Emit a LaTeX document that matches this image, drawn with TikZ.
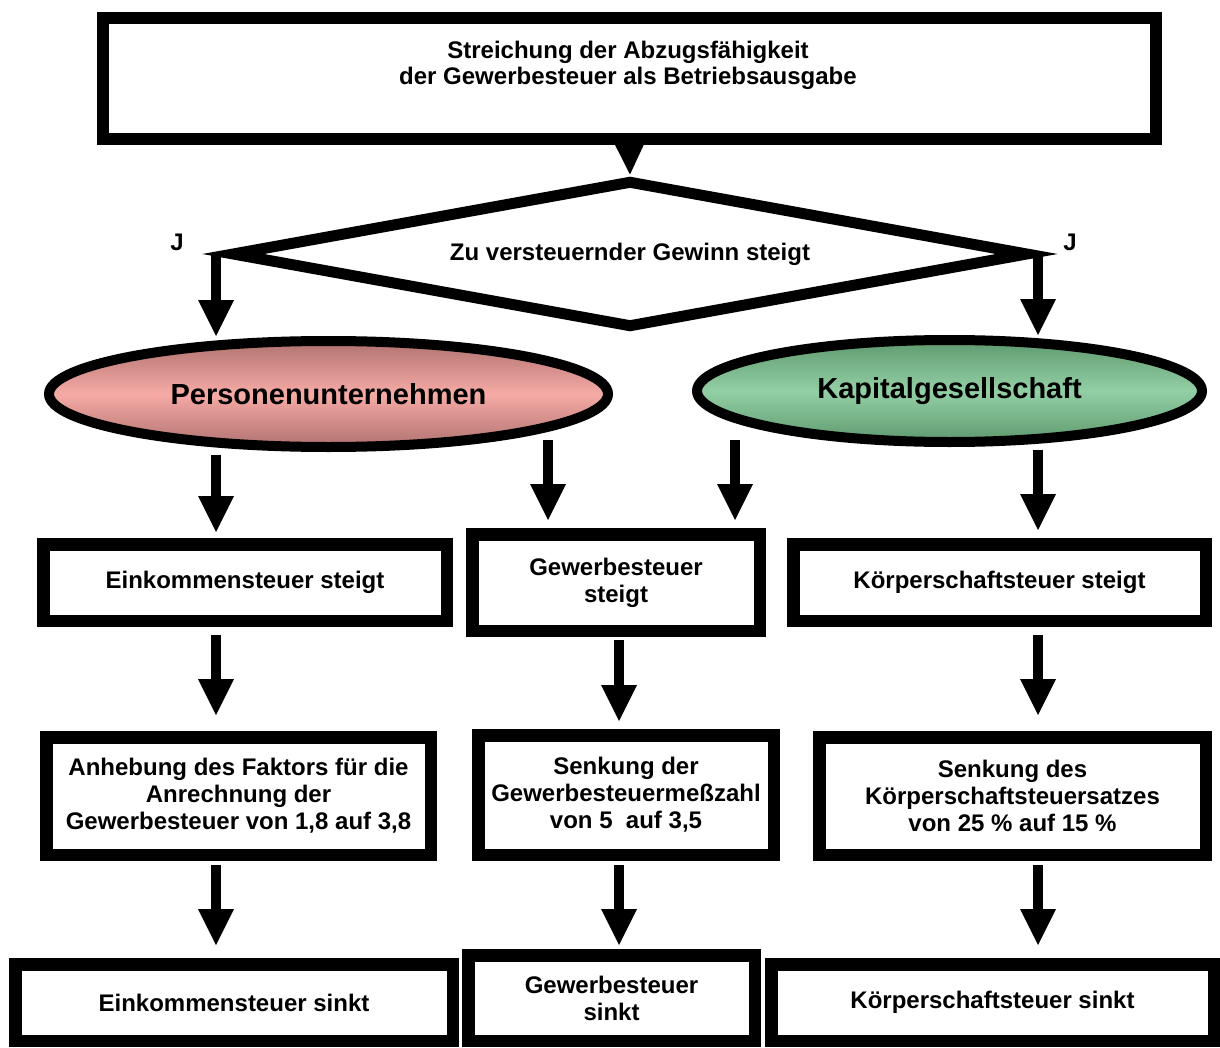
\documentclass[tikz,border=0pt]{standalone}
\usepackage{fontspec}
\setmainfont{Liberation Sans}
\usetikzlibrary{arrows.meta, shapes.geometric}
\definecolor{pnkdark}{HTML}{B07270}
\definecolor{pnklight}{HTML}{F6AAA5}
\definecolor{grndark}{HTML}{5E9A6E}
\definecolor{grnlight}{HTML}{93CFA4}

\begin{document}
\begin{tikzpicture}[x=0.5pt, y=-0.5pt,
  box/.style={draw, line width=6.25pt, fill=white, inner sep=0pt, align=center, font=\bfseries\fontsize{12}{13.5}\selectfont},
  oval/.style={ellipse, draw, line width=5pt, inner sep=0pt, font=\bfseries\fontsize{14.5}{16}\selectfont},
  arr/.style={line width=4.75pt, -{Triangle[length=18pt, width=18pt, line width=0pt]}},
  tri/.style={line width=1pt, -{Triangle[length=16pt, width=15.5pt, line width=0pt]}},
]
  \useasboundingbox (0,0) rectangle (1220,1048);

  % columns of the arrows
  \coordinate (c1) at (216,0);
  \coordinate (m1) at (548,0);
  \coordinate (c2) at (619,0);
  \coordinate (m2) at (735,0);
  \coordinate (c3) at (1038,0);

  \node[box, minimum width=526.5pt, minimum height=60.5pt] (top) at (629.5,78.5) {};
  \node[align=center, font=\bfseries\fontsize{12}{13}\selectfont] (title) at (628,65) {Streichung der Abzugsf\"ahigkeit\\der Gewerbesteuer als Betriebsausgabe};

  \node[diamond, draw, line width=5.5pt, aspect=5.5, inner sep=0pt, fill=white, minimum width=399pt, minimum height=74pt, font=\bfseries\fontsize{12}{13.5}\selectfont] (dia) at (630,254) {Zu versteuernder Gewinn steigt};
  \node[font=\bfseries\fontsize{12}{13.5}\selectfont] (jl) at (177,242) {J};
  \node[font=\bfseries\fontsize{12}{13.5}\selectfont] (jr) at (1070,242) {J};

  \node[oval, top color=pnkdark, bottom color=pnkdark, middle color=pnklight, minimum width=279.5pt, minimum height=53pt] (pl) at (328.5,394) {Personenunternehmen};
  \node[oval, top color=grndark, bottom color=grndark, middle color=grnlight, minimum width=252.5pt, minimum height=51pt] (kg) at (949.5,391) {Kapitalgesellschaft};

  \node[box, minimum width=201.75pt, minimum height=38.25pt] (est) at (245,582.5) {Einkommensteuer steigt};
  \node[box, minimum width=143.75pt, minimum height=48.25pt] (gst) at (616,582.5) {Gewerbesteuer\\steigt};
  \node[box, minimum width=206.25pt, minimum height=38.25pt] (kst) at (999.5,582.5) {K\"orperschaftsteuer steigt};

  \node[box, minimum width=192.25pt, minimum height=58.75pt] (fak) at (238.5,796) {Anhebung des Faktors f\"ur die\\Anrechnung der\\Gewerbesteuer von 1,8 auf 3,8};
  \node[box, minimum width=147.75pt, minimum height=59.75pt] (mzahl) at (626,795) {Senkung der\\Gewerbesteuerme\ss zahl\\von 5\ \ auf 3,5};
  \node[box, minimum width=193.25pt, minimum height=58.75pt] (satz) at (1012.5,796) {Senkung des\\K\"orperschaftsteuersatzes\\von 25 \% auf 15 \%};

  \node[box, minimum width=218.75pt, minimum height=38.25pt] (esk) at (234,1002.5) {Einkommensteuer sinkt};
  \node[box, minimum width=143.25pt, minimum height=42.75pt] (gsk) at (611.5,998) {Gewerbesteuer\\sinkt};
  \node[box, minimum width=221.25pt, minimum height=38.25pt] (ksk) at (992.5,1002.5) {K\"orperschaftsteuer sinkt};

  \draw[tri] (top.south) -- (dia.north);
  \draw[arr] (c1 |- dia.west) -- (c1 |- pl.north);
  \draw[arr] (c3 |- dia.east) -- (c3 |- kg.north);

  \draw[arr, shorten <=1.5pt, shorten >=3pt] (c1 |- pl.south) -- (c1 |- est.north);
  \draw[arr, shorten <=-6pt, shorten >=4pt] (m1 |- pl.south) -- (m1 |- gst.north);
  \draw[arr, shorten <=-3.5pt, shorten >=4pt] (m2 |- kg.south) -- (m2 |- gst.north);
  \draw[arr, shorten <=1.5pt, shorten >=4pt] (c3 |- kg.south) -- (c3 |- kst.north);

  \draw[arr, shorten <=4pt, shorten >=8pt] (c1 |- est.south) -- (c1 |- fak.north);
  \draw[arr, shorten <=1.5pt, shorten >=4pt] (c2 |- gst.south) -- (c2 |- mzahl.north);
  \draw[arr, shorten <=4pt, shorten >=8pt] (c3 |- kst.south) -- (c3 |- satz.north);

  \draw[arr, shorten <=2pt, shorten >=6.5pt] (c1 |- fak.south) -- (c1 |- esk.north);
  \draw[arr, shorten <=2pt, shorten >=2pt] (c2 |- mzahl.south) -- (c2 |- gsk.north);
  \draw[arr, shorten <=2pt, shorten >=6.5pt] (c3 |- satz.south) -- (c3 |- ksk.north);
\end{tikzpicture}
\end{document}
